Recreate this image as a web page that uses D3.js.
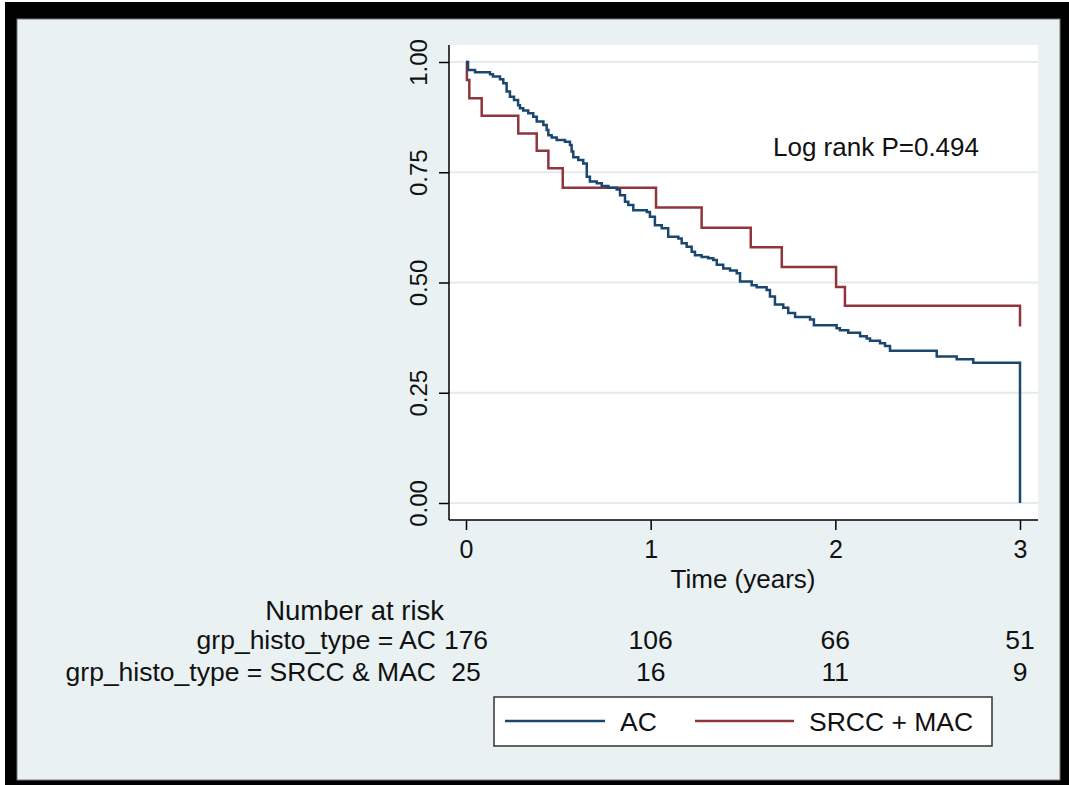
<!DOCTYPE html>
<html><head><meta charset="utf-8">
<script src="https://cdn.jsdelivr.net/npm/d3@7"></script>
<style>
body{margin:0;background:#fff}
svg text{font-family:"Liberation Sans",Arial,sans-serif;fill:#111}
</style>
</head><body><svg id="c" width="1069" height="785"></svg>
<script>
// ---- data ----
const acTimes = [0,0.011,0.049,0.130,0.146,0.184,0.202,0.220,0.238,0.260,
  0.282,0.292,0.310,0.337,0.364,0.383,0.419,0.437,0.446,0.464,
  0.491,0.536,0.563,0.572,0.581,0.608,0.635,0.654,0.671,0.708,
  0.735,0.771,0.816,0.834,0.861,0.879,0.906,0.979,0.996,1.023,
  1.060,1.095,1.150,1.168,1.195,1.222,1.240,1.276,1.312,1.339,
  1.358,1.393,1.430,1.466,1.484,1.547,1.574,1.628,1.646,1.673,
  1.718,1.745,1.782,1.863,1.884,2.007,2.025,2.070,2.134,2.170,
  2.188,2.242,2.269,2.296,2.549,2.657,2.747,3.0];
const acSurv = [1,0.982,0.977,0.972,0.967,0.961,0.952,0.933,0.921,0.914,
  0.902,0.895,0.890,0.884,0.876,0.865,0.857,0.846,0.834,0.829,
  0.823,0.819,0.812,0.797,0.784,0.778,0.770,0.740,0.729,0.725,
  0.719,0.715,0.711,0.698,0.683,0.676,0.664,0.660,0.649,0.630,
  0.623,0.604,0.600,0.589,0.581,0.570,0.562,0.558,0.555,0.551,
  0.540,0.532,0.527,0.521,0.502,0.494,0.489,0.483,0.468,0.450,
  0.443,0.431,0.422,0.416,0.403,0.396,0.392,0.386,0.378,0.373,
  0.368,0.362,0.356,0.345,0.332,0.326,0.318,0];
const macTimes = [0,0.005,0.018,0.085,0.283,0.383,0.446,0.524,1.029,1.276,1.542,1.710,2.004,2.052,3.0];
const macSurv  = [1,0.959,0.918,0.878,0.838,0.799,0.759,0.715,0.670,0.624,0.580,0.535,0.490,0.447,0.40];
const xTicks = [0,1,2,3];
const yTicks = [0,0.25,0.5,0.75,1];
const seriesNames = ["AC","SRCC + MAC"];
const riskTitle = "Number at risk";
const riskLabels = ["grp_histo_type = AC","grp_histo_type = SRCC & MAC"];
const riskAC  = [176,106,66,51];
const riskMAC = [25,16,11,9];
const annotation = "Log rank P=0.494";
const xTitle = "Time (years)";

// ---- layout ----
const W=1069,H=785;
const svg=d3.select("#c");
const blue="#1a476f", red="#90353b", bg="#eaf1f3", grid="#e3ebee";

svg.append("rect").attr("x",0).attr("y",0).attr("width",W).attr("height",H).attr("fill","#fff");
svg.append("rect").attr("x",5).attr("y",2).attr("width",W-5).attr("height",H-2).attr("fill","#000");
svg.append("rect").attr("x",17).attr("y",19).attr("width",1043).attr("height",761).attr("fill",bg)
  .attr("stroke","#777").attr("stroke-width",1);

const px0=449, px1=1038, py0=45, py1=520;
svg.append("rect").attr("x",px0).attr("y",py0).attr("width",px1-px0).attr("height",py1-py0).attr("fill","#fff");

const x=d3.scaleLinear().domain([0,3]).range([466,1020]);
const y=d3.scaleLinear().domain([0,1]).range([503,62]);

// gridlines
svg.append("g").selectAll("line").data(yTicks).join("line")
  .attr("x1",px0).attr("x2",px1).attr("y1",d=>y(d)).attr("y2",d=>y(d))
  .attr("stroke",grid).attr("stroke-width",2);

// y axis
const yAx=svg.append("g").attr("transform",`translate(${px0},0)`)
  .call(d3.axisLeft(y).tickValues(yTicks).tickFormat(d3.format(".2f")).tickSize(10).tickSizeOuter(0));
yAx.select(".domain").remove();
yAx.append("line").attr("x1",0).attr("x2",0).attr("y1",py0).attr("y2",py1).attr("stroke","#000").attr("stroke-width",1.5);
yAx.selectAll(".tick line").attr("stroke","#000").attr("stroke-width",1.5);
yAx.selectAll(".tick text").attr("x",null).attr("dy",null)
  .attr("transform","translate(-31,0) rotate(-90)")
  .attr("text-anchor","middle").attr("dominant-baseline","central")
  .style("font-size","24px").style("font-family","'Liberation Sans',Arial,sans-serif").attr("fill","#111");

// x axis
const xAx=svg.append("g").attr("transform",`translate(0,${py1})`)
  .call(d3.axisBottom(x).tickValues(xTicks).tickFormat(d3.format("d")).tickSize(10).tickSizeOuter(0));
xAx.select(".domain").remove();
xAx.append("line").attr("x1",px0).attr("x2",px1).attr("y1",0).attr("y2",0).attr("stroke","#000").attr("stroke-width",1.5);
xAx.selectAll(".tick line").attr("stroke","#000").attr("stroke-width",1.5);
xAx.selectAll(".tick text").attr("y",null).attr("dy",null).attr("transform","translate(0,29)")
  .attr("dominant-baseline","central").style("font-size","25px")
  .style("font-family","'Liberation Sans',Arial,sans-serif").attr("fill","#111");

svg.append("text").attr("x",(x(0)+x(3))/2).attr("y",579).attr("text-anchor","middle")
  .attr("dominant-baseline","central").style("font-size","26px").text(xTitle);

// curves
const line=d3.line().x(d=>x(d[0])).y(d=>y(d[1])).curve(d3.curveStepAfter);
const macPts=macTimes.map((t,i)=>[t,macSurv[i]]);
const acPts=acTimes.map((t,i)=>[t,acSurv[i]]);
svg.append("path").attr("d",line(macPts)).attr("fill","none").attr("stroke",red).attr("stroke-width",2.5);
svg.append("path").attr("d",line(acPts)).attr("fill","none").attr("stroke",blue).attr("stroke-width",2.5);

// annotation
svg.append("text").attr("x",773).attr("y",156).style("font-size","26px").text(annotation);

// risk table
const labRight=436;
svg.append("text").attr("x",444).attr("y",610).attr("text-anchor","end").attr("dominant-baseline","central")
  .style("font-size","27.5px").text(riskTitle);
[riskAC,riskMAC].forEach((vals,i)=>{
  const yy=640+i*32;
  svg.append("text").attr("x",labRight).attr("y",yy).attr("text-anchor","end").attr("dominant-baseline","central")
    .style("font-size","26.5px").text(riskLabels[i]);
  svg.append("g").selectAll("text").data(vals).join("text")
    .attr("x",(d,j)=>x(xTicks[j])).attr("y",yy).attr("text-anchor","middle").attr("dominant-baseline","central")
    .style("font-size","26.5px").text(d=>d);
});

// legend
const lg=svg.append("g");
lg.append("rect").attr("x",494).attr("y",697).attr("width",498).attr("height",49)
  .attr("fill","#fff").attr("stroke","#333").attr("stroke-width",1.5);
const legX=[[505,605,620],[695,794,809]];
[blue,red].forEach((c,i)=>{
  lg.append("line").attr("x1",legX[i][0]).attr("x2",legX[i][1]).attr("y1",721).attr("y2",721)
    .attr("stroke",c).attr("stroke-width",2.5);
  lg.append("text").attr("x",legX[i][2]).attr("y",722).attr("dominant-baseline","central")
    .style("font-size","26.5px").text(seriesNames[i]);
});
</script>
</body></html>
